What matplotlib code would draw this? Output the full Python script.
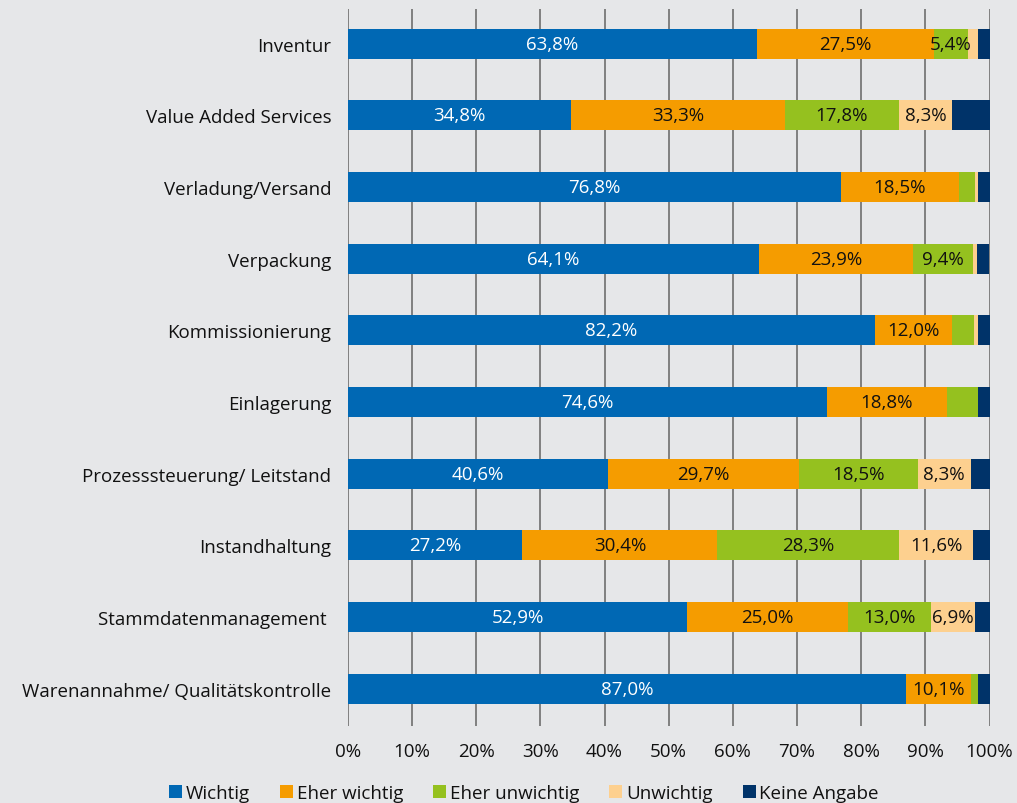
import matplotlib
matplotlib.use("Agg")
import matplotlib.pyplot as plt
import numpy as np

categories = ["Inventur", "Value Added Services", "Verladung/Versand", "Verpackung",
              "Kommissionierung", "Einlagerung", "Prozesssteuerung/ Leitstand",
              "Instandhaltung", "Stammdatenmanagement ", "Warenannahme/ Qualitätskontrolle"]
series_names = ["Wichtig", "Eher wichtig", "Eher unwichtig", "Unwichtig", "Keine Angabe"]
wichtig = [63.8, 34.8, 76.8, 64.1, 82.2, 74.6, 40.6, 27.2, 52.9, 87.0]
eher_wichtig = [27.5, 33.3, 18.5, 23.9, 12.0, 18.8, 29.7, 30.4, 25.0, 10.1]
eher_unwichtig = [5.4, 17.8, 2.5, 9.4, 3.4, 4.8, 18.5, 28.3, 13.0, 1.1]
unwichtig = [1.5, 8.3, 0.4, 0.7, 0.6, 0.0, 8.3, 11.6, 6.9, 0.0]
keine_angabe = [1.8, 5.8, 1.8, 1.8, 1.8, 1.8, 2.9, 2.5, 2.2, 1.8]
# which segments carry a label
show_label = [
    [True] * 10,
    [True] * 10,
    [True, True, False, True, False, False, True, True, True, False],
    [False, True, False, False, False, False, True, True, True, False],
    [False] * 10,
]
colors = ["#0068b4", "#f59c00", "#95c11f", "#fdd08f", "#003369"]
text_colors = ["white", "#111111", "#111111", "#111111", "white"]

plt.rcParams['font.family'] = ['Open Sans', 'DejaVu Sans']
bg = "#e6e7e9"
fig = plt.figure(figsize=(10.17, 8.04), dpi=100, facecolor=bg)
ax = fig.add_axes([0.342, 0.096, 0.631, 0.892], facecolor=bg)

data = [wichtig, eher_wichtig, eher_unwichtig, unwichtig, keine_angabe]
y = np.arange(len(categories))
left = np.zeros(len(categories))
for i, (vals, name) in enumerate(zip(data, series_names)):
    vals = np.array(vals)
    ax.barh(y, vals, left=left, height=0.42, color=colors[i], label=name,
            edgecolor="none", zorder=3)
    for j, v in enumerate(vals):
        if show_label[i][j]:
            ax.text(left[j] + v / 2, y[j], f"{v:.1f}%".replace(".", ","),
                    ha="center", va="center", fontsize=13.5,
                    color=text_colors[i], zorder=4)
    left += vals

ax.set_xlim(0, 100)
ax.set_ylim(9.52, -0.49)
ax.set_xticks(np.arange(0, 101, 10))
ax.set_xticklabels([f"{t}%" for t in range(0, 101, 10)], fontsize=13.5, color="#111111")
ax.set_yticks(y)
ax.set_yticklabels(categories, fontsize=13.5, color="#111111")
ax.tick_params(axis="y", length=0, pad=12)
ax.tick_params(axis="x", length=0, pad=12)
ax.grid(axis="x", color="#6e6e6e", linewidth=1.2, zorder=1)
for s in ax.spines.values():
    s.set_visible(False)

fig.legend(loc="lower center", bbox_to_anchor=(0.515, -0.02), ncol=5, frameon=False,
           fontsize=13.5, handlelength=0.7, handleheight=0.7, handletextpad=0.2,
           columnspacing=1.6, labelcolor="#111111")

fig.savefig("out.png", dpi=100, facecolor=bg)
